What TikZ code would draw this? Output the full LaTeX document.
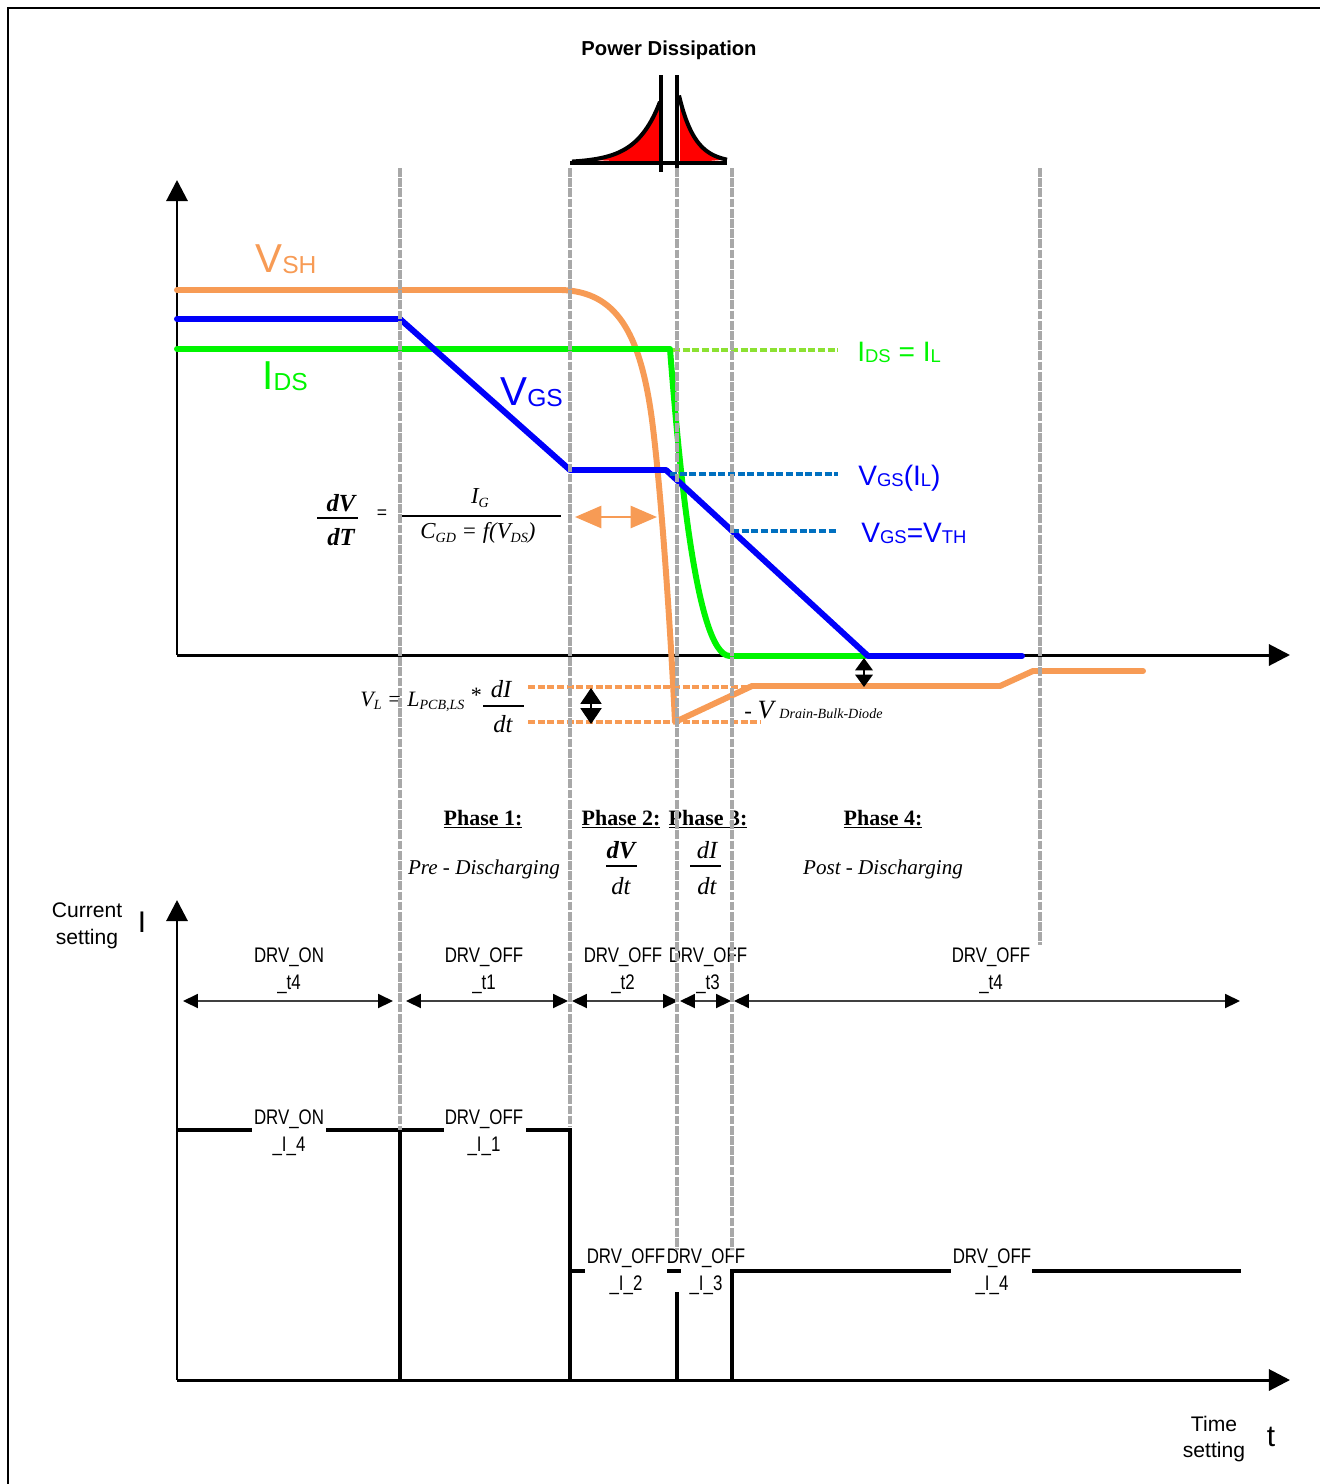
\documentclass[tikz,border=0pt]{standalone}
\usepackage{fontspec}
\setmainfont{Liberation Serif}
\setsansfont{Liberation Sans}
\newfontfamily\narrowfont[FakeStretch=0.8]{Liberation Sans}
\usetikzlibrary{arrows.meta}

\definecolor{vshorange}{RGB}{247,155,85}
\definecolor{idsgreen}{RGB}{0,245,0}
\definecolor{ilgreen}{RGB}{140,225,50}
\definecolor{vgsblue}{RGB}{0,0,250}
\definecolor{levelblue}{RGB}{0,112,192}
\definecolor{guidegray}{RGB}{168,168,168}

\newcommand{\bigsub}[2]{{\fontsize{23}{23}\selectfont #1}\raisebox{-1pt}{\fontsize{14}{14}\selectfont #2}}
\newcommand{\midsub}[1]{\raisebox{-1pt}{\fontsize{10.5}{10.5}\selectfont #1}}
\newcommand{\fsub}[1]{\raisebox{-2pt}{\fontsize{8}{8}\selectfont #1}}

\tikzset{
  axis/.style={line width=1.7pt, -{Triangle[length=12pt, width=12pt]}},
  guide/.style={guidegray, line width=2.7pt, dash pattern=on 5pt off 0.8pt},
  wave/.style={line width=3.4pt, line cap=round, line join=round},
  level/.style={line width=2.3pt, dash pattern=on 4pt off 1.5pt},
  timing/.style={draw=darkgray, line width=0.9pt,
    {Triangle[length=8.5pt, width=8pt, color=black]}-{Triangle[length=8.5pt, width=8pt, color=black]}},
  pulse/.style={line width=2.3pt},
  pdline/.style={line width=2.3pt},
  drvlabel/.style={font={\narrowfont\fontsize{12}{15.3}\selectfont}, align=center, inner sep=0pt},
  phaselabel/.style={font={\bfseries\fontsize{12.5}{14}\selectfont}, inner sep=0pt, anchor=base},
  formula/.style={font={\itshape\fontsize{13}{14}\selectfont}, inner sep=0pt},
  sidelabel/.style={font={\sffamily\fontsize{12}{15.3}\selectfont}, align=center, inner sep=0pt},
  levellabel/.style={font={\sffamily\fontsize{16}{16}\selectfont}, anchor=base west, inner sep=0pt},
}

\begin{document}
\begin{tikzpicture}[x=0.02cm, y=-0.02cm]
    \useasboundingbox (0,0) rectangle (1320,1484);

    % rámeček
    \draw[line width=0.6pt] (8,1484) -- (8,8) -- (1320,8);

    % osy
    \draw[axis] (177,655) coordinate (O1) -- (177,180) coordinate (Y1);
    \draw[axis] (O1) -- (1290,655) coordinate (X1);
    \draw[axis] (177,1380) coordinate (O2) -- (177,900) coordinate (Y2);
    \draw[axis] (O2) -- (1290,1380) coordinate (X2);

    % průběhy
    \draw[wave, vshorange] (177,290) -- (562,290)
        .. controls (615,292) and (640,330) .. (652,420)
        .. controls (661,490) and (670,620) .. (675,722) coordinate (VLmin)
        -- (752,686) -- (1000,686) -- (1033,671) -- (1143,671);
    \draw[wave, idsgreen] (177,349) -- (670,349)
        .. controls (678,450) and (695,656) .. (730,656) -- (865,656);
    \draw[wave, vgsblue] (177,319) -- (400,319) -- (570,470) -- (666,470)
        -- (868,656) coordinate (VTH) -- (1022,656);

    % úrovně
    \draw[level, ilgreen] (673,350) -- (838,350);
    \draw[level, levelblue] (670,474) -- (838,474);
    \draw[level, levelblue] (732,531) -- (838,531);
    \draw[level, vshorange] (528,687) -- (760,687);
    \draw[level, vshorange] (528,722) -- (760,722);

    % šipky
    \draw[vshorange, line width=1.6pt,
        {Triangle[length=15pt, width=12.5pt]}-{Triangle[length=15pt, width=12.5pt]}]
        (575,517) -- (657,517);
    \draw[line width=0.8pt, {Triangle[length=9pt, width=12pt]}-{Triangle[length=9pt, width=12pt]}]
        (591,688) -- (591,724);
    \draw[line width=0.8pt, {Triangle[length=7pt, width=10pt]}-{Triangle[length=7pt, width=10pt]}]
        (864,658) -- (864,687);

    % ztrátový výkon
    \fill[red] plot[domain=590:659, samples=40] (\x,{163-40*exp((\x-650)/23.5)})
        -- (659,163) -- cycle;
    \fill[red] (680,163) -- plot[domain=680:727, samples=40] (\x,{163-56*exp(-(\x-682)/16)})
        -- cycle;
    \draw[pdline] plot[domain=572:660, samples=50] (\x,{163-40*exp((\x-650)/23.5)});
    \draw[pdline] plot[domain=679:727, samples=50] (\x,{163-56*exp(-(\x-682)/16)});
    \draw[pdline] (570,163) -- (727,163);
    \draw[pdline] (661,75) -- (661,172);
    \draw[pdline] (677,75) -- (677,172);
    \node[font={\sffamily\bfseries\fontsize{11.5}{13}\selectfont}] (pdtitle) at (669,50) {Power Dissipation};

    % popisky průběhů
    \node[font=\sffamily, text=vshorange, anchor=base west, inner sep=0pt] (vshlbl) at (255,272) {\bigsub{V}{SH}};
    \node[font=\sffamily, text=idsgreen, anchor=base west, inner sep=0pt] (idslbl) at (262,389) {\bigsub{I}{DS}};
    \node[font=\sffamily, text=vgsblue, anchor=base west, inner sep=0pt] (vgslbl) at (500,405) {\bigsub{V}{GS}};
    \node[levellabel, text=idsgreen] (idsil) at (857,361) {I\midsub{DS} = I\midsub{L}};
    \node[levellabel, text=vgsblue] (vgsil) at (858,485) {V\midsub{GS}(I\midsub{L})};
    \node[levellabel, text=vgsblue] (vgsth) at (861,542) {V\midsub{GS}=V\midsub{TH}};

    % vzorce
    \node[formula, font={\bfseries\itshape\fontsize{14}{14}\selectfont}] (dvnum) at (341,503) {dV};
    \node[formula, font={\bfseries\itshape\fontsize{14}{14}\selectfont}] (dtden) at (341,537) {dT};
    \draw[line width=1.1pt] (317,518) -- (358,518);
    \node[font={\sffamily\fontsize{10}{10}\selectfont}, inner sep=0pt] (eqsign) at (382,514) {=};
    \node[formula] (ignum) at (480,498) {I\fsub{G}};
    \draw[line width=0.6pt] (402,516) -- (561,516);
    \node[formula] (cgdden) at (478,533) {C\fsub{GD} = f(V\fsub{DS})};

    \node[formula, anchor=base west, font={\itshape\fontsize{12.5}{14}\selectfont}] (vlform) at (360,706)
        {V\fsub{L} = L\fsub{PCB,LS} \raisebox{2pt}{*}};
    \node[formula, font={\itshape\fontsize{14}{14}\selectfont}] (dinum) at (501,689) {dI};
    \draw[line width=1pt] (483,706) -- (524,706);
    \node[formula, font={\itshape\fontsize{14}{14}\selectfont}] (dtvl) at (503,724) {dt};
    \node[formula, anchor=base west] (vdiode) at (744,718)
        {- {\fontsize{15}{15}\selectfont V} {\fontsize{8}{8}\selectfont Drain-Bulk-Diode}};

    % fáze
    \node[phaselabel] (ph1) at (483,825) {\underline{Phase 1:}};
    \node[phaselabel] (ph2) at (621,825) {\underline{Phase 2:}};
    \node[phaselabel] (ph3) at (708,825) {\underline{Phase 3:}};
    \node[phaselabel] (ph4) at (883,825) {\underline{Phase 4:}};
    \node[formula, anchor=base, font={\itshape\fontsize{12}{14}\selectfont}] (predis) at (484,874) {Pre - Discharging};
    \node[formula, anchor=base, font={\itshape\fontsize{12}{14}\selectfont}] (postdis) at (883,874) {Post - Discharging};
    \node[formula, font={\bfseries\itshape\fontsize{14}{14}\selectfont}] (ph2num) at (621,850) {dV};
    \draw[line width=1.1pt] (606,866) -- (637,866);
    \node[formula, font={\itshape\fontsize{14}{14}\selectfont}] (ph2den) at (621,886) {dt};
    \node[formula, font={\itshape\fontsize{14}{14}\selectfont}] (ph3num) at (707,850) {dI};
    \draw[line width=1.1pt] (690,866) -- (721,866);
    \node[formula, font={\itshape\fontsize{14}{14}\selectfont}] (ph3den) at (707,886) {dt};

    % osy spodního grafu
    \node[sidelabel] (curset) at (87,926) {Current\\setting};
    \node[font={\sffamily\fontsize{17}{17}\selectfont}, inner sep=0pt] (iaxis) at (142,922) {I};
    \node[sidelabel] (timeset) at (1214,1439) {Time\\setting};
    \node[font={\sffamily\fontsize{17}{17}\selectfont}, inner sep=0pt] (taxis) at (1271,1437) {t};

    % časy
    \node[drvlabel] (ont4) at (289,971) {DRV\_ON\\\_t4};
    \node[drvlabel] (offt1) at (484,971) {DRV\_OFF\\\_t1};
    \node[drvlabel] (offt2) at (623,971) {DRV\_OFF\\\_t2};
    \node[drvlabel] (offt3) at (708,971) {DRV\_OFF\\\_t3};
    \node[drvlabel] (offt4) at (991,971) {DRV\_OFF\\\_t4};
    \foreach \xa/\xb in {183/393, 406/568, 572/678, 680/731, 734/1240}
        \draw[timing] (\xa,1001) -- (\xb,1001);

    % proudy
    \node[drvlabel] (oni4) at (289,1133) {DRV\_ON\\\_I\_4};
    \node[drvlabel] (offi1) at (484,1133) {DRV\_OFF\\\_I\_1};
    \node[drvlabel] (offi2) at (626,1272) {DRV\_OFF\\\_I\_2};
    \node[drvlabel] (offi3) at (706,1272) {DRV\_OFF\\\_I\_3};
    \node[drvlabel] (offi4) at (992,1272) {DRV\_OFF\\\_I\_4};
    \draw[pulse] (177,1130) -- (252,1130) (326,1130) -- (444,1130)
        (526,1130) -- (570,1130) -- (570,1380) (400,1130) -- (400,1380)
        (570,1271) -- (585,1271) (667,1271) -- (681,1271) (677,1292) -- (677,1380)
        (732,1380) -- (732,1271) -- (951,1271) (1032,1271) -- (1241,1271);

    % hranice fází
    \foreach \gx/\gy in {400/1130, 570/1127, 677/1250, 732/1250, 1040/945}
        \draw[guide] (\gx,168) -- (\gx,\gy);
\end{tikzpicture}
\end{document}
